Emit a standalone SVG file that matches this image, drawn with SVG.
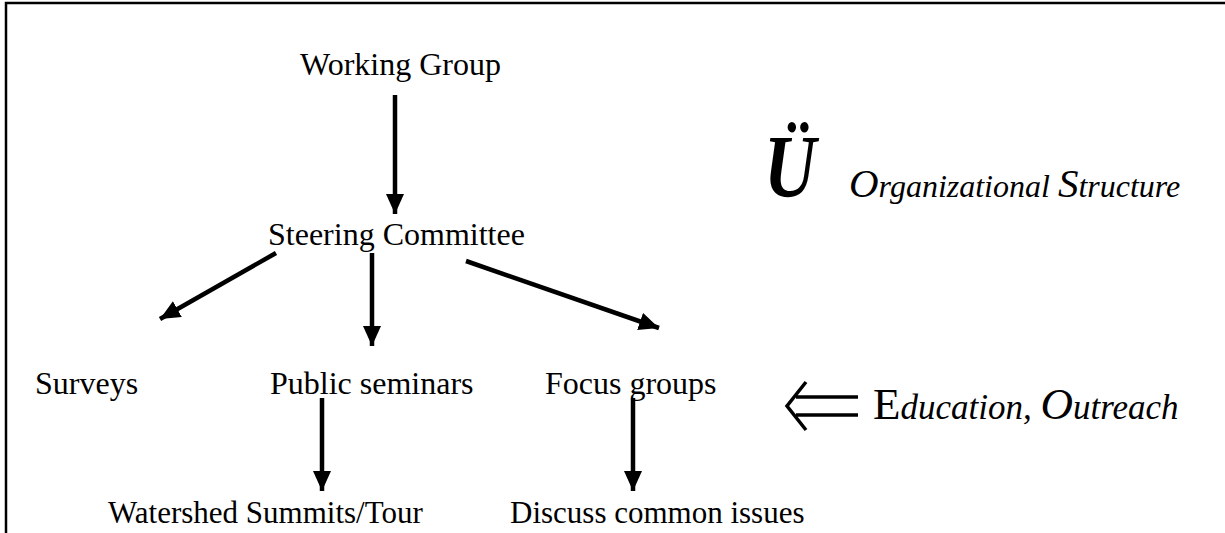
<svg xmlns="http://www.w3.org/2000/svg" width="1225" height="533" viewBox="0 0 1225 533">
<style>
.t{font-family:"Liberation Serif","Times New Roman",serif;font-size:32px;fill:#000}
.b{font-size:31px}
.i{font-family:"Liberation Serif","Times New Roman",serif;font-style:italic;fill:#000}
.c{stroke:#000;stroke-width:4.5;fill:none}
</style>
<defs>
<marker id="ah" markerUnits="userSpaceOnUse" markerWidth="22" markerHeight="20" refX="20" refY="9" orient="auto">
<path d="M0,0 L20,9 L0,18 Z" fill="#000"/>
</marker>
</defs>
<rect width="1225" height="533" fill="#fff"/>
<g id="border" stroke="#000" stroke-width="2.5" fill="none">
<path d="M6,533 V3 H1225"/>
</g>
<g id="connectors">
<line class="c" x1="395" y1="95" x2="395" y2="214" marker-end="url(#ah)"/>
<line class="c" x1="276" y1="253" x2="160" y2="319" marker-end="url(#ah)"/>
<line class="c" x1="372" y1="253" x2="372" y2="346" marker-end="url(#ah)"/>
<line class="c" x1="466" y1="261" x2="659" y2="328" marker-end="url(#ah)"/>
<line class="c" x1="322" y1="398" x2="322" y2="491" marker-end="url(#ah)"/>
<line class="c" x1="633" y1="398" x2="633" y2="491" marker-end="url(#ah)"/>
</g>
<g id="working-group"><text class="t" x="300" y="75">Working Group</text></g>
<g id="steering-committee"><text class="t" x="268" y="245">Steering Committee</text></g>
<g id="surveys"><text class="t" x="35" y="394">Surveys</text></g>
<g id="public-seminars"><text class="t" x="270" y="394">Public seminars</text></g>
<g id="focus-groups"><text class="t" x="545" y="394">Focus groups</text></g>
<g id="watershed"><text class="t b" x="108" y="523">Watershed Summits/Tour</text></g>
<g id="discuss"><text class="t b" x="510" y="523">Discuss common issues</text></g>
<g id="org-structure">
<text class="i" transform="translate(764,196) scale(0.82,1)" font-size="88" font-weight="bold">Ü</text>
<text class="i" x="849" y="197" font-size="32"><tspan font-size="41">O</tspan>rganizational <tspan font-size="41">S</tspan>tructure</text>
</g>
<g id="education-outreach">
<path d="M806,382 L787,406 L806,430 M796,397 H858 M796,415 H858" stroke="#000" stroke-width="3.5" fill="none"/>
<text class="i" x="873" y="419" font-size="35"><tspan font-style="normal" font-size="45">E</tspan>ducation, <tspan font-size="45">O</tspan>utreach</text>
</g>
</svg>
